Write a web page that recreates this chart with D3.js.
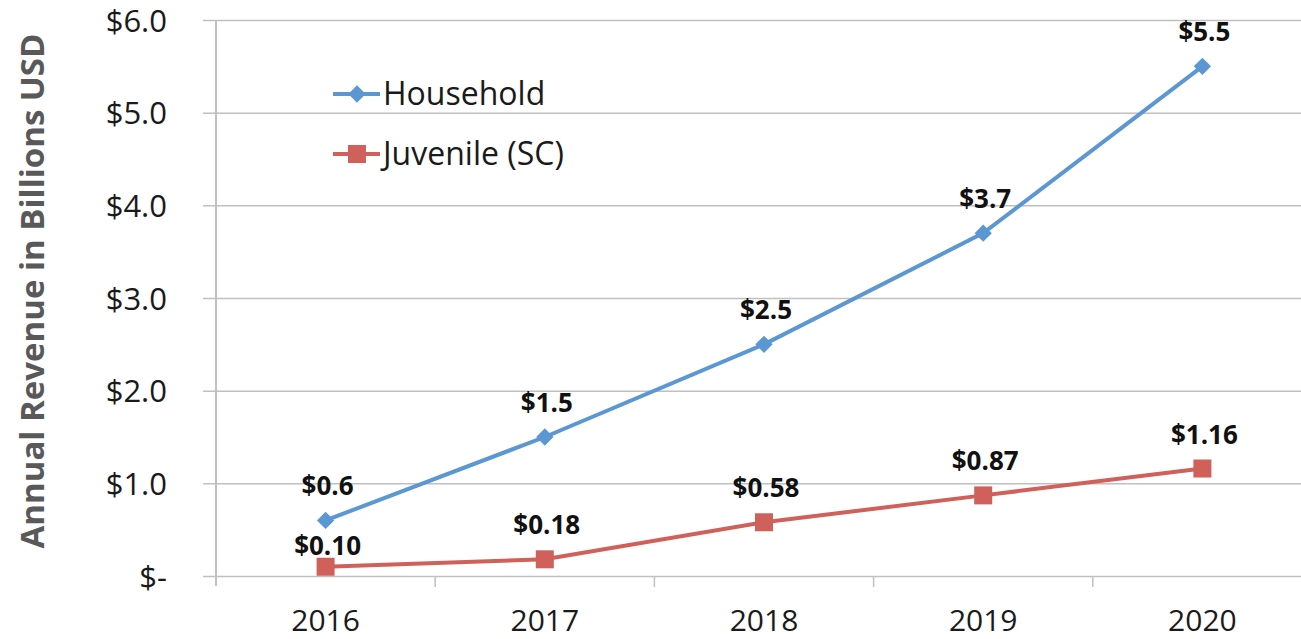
<!DOCTYPE html>
<html>
<head>
<meta charset="utf-8">
<script src="https://cdn.jsdelivr.net/npm/d3@7"></script>
<style>
  body { margin: 0; background: #fff; }
  svg text { font-family: "Open Sans", "Noto Sans", sans-serif; }
  .axis path { display: none; }
</style>
</head>
<body>
<div id="chart"></div>
<script>
// chart data
const years = ["2016", "2017", "2018", "2019", "2020"];
const household = [0.6, 1.5, 2.5, 3.7, 5.5];
const juvenile = [0.10, 0.18, 0.58, 0.87, 1.16];
const householdLabels = ["$0.6", "$1.5", "$2.5", "$3.7", "$5.5"];
const juvenileLabels = ["$0.10", "$0.18", "$0.58", "$0.87", "$1.16"];
const yTicks = [0, 1, 2, 3, 4, 5, 6];
const yTickLabels = ["$-", "$1.0", "$2.0", "$3.0", "$4.0", "$5.0", "$6.0"];

const svgWidth = 1301;
const svgHeight = 639;
const plotLeft = 216, plotRight = 1312, plotTop = 20, plotBottom = 576;

const svg = d3.select("#chart")
    .append("svg")
    .attr("width", svgWidth)
    .attr("height", svgHeight);

const x = d3.scaleBand()
    .domain(years)
    .range([plotLeft, plotRight]);

const y = d3.scaleLinear()
    .domain([0, 6])
    .range([plotBottom, plotTop]);

const gridColor = "#c0c0c0";

// horizontal gridlines + y tick labels
const yAxis = svg.append("g")
    .attr("class", "axis")
    .attr("transform", `translate(${plotLeft},0)`)
    .call(d3.axisLeft(y)
        .tickValues(yTicks)
        .tickFormat((d, i) => yTickLabels[i])
        .tickSize(-(plotRight - plotLeft))
        .tickPadding(49));
yAxis.selectAll("line")
    .attr("x1", -13)
    .attr("stroke", gridColor)
    .attr("stroke-width", 1.5);
yAxis.selectAll("text")
    .attr("font-size", "31px")
    .attr("fill", "#1a1a1a")
    .attr("dy", "0.36em");

// vertical axis line
svg.append("line")
    .attr("x1", plotLeft).attr("x2", plotLeft)
    .attr("y1", plotTop).attr("y2", plotBottom + 10)
    .attr("stroke", gridColor)
    .attr("stroke-width", 2);

// x axis: tick marks between categories
const xAxis = svg.append("g")
    .attr("class", "axis")
    .attr("transform", `translate(0,${plotBottom})`)
    .call(d3.axisBottom(x).tickSize(0).tickPadding(55));
xAxis.selectAll("text")
    .attr("font-size", "30px")
    .attr("fill", "#1a1a1a")
    .attr("dy", "0");

svg.append("g")
    .selectAll("line")
    .data(years.slice(1))
    .enter()
    .append("line")
    .attr("x1", d => x(d))
    .attr("x2", d => x(d))
    .attr("y1", plotBottom)
    .attr("y2", plotBottom + 11)
    .attr("stroke", gridColor)
    .attr("stroke-width", 1.5);

// y axis title
svg.append("text")
    .text("Annual Revenue in Billions USD")
    .attr("transform", `translate(44,291) rotate(-90)`)
    .attr("text-anchor", "middle")
    .attr("font-size", "33px")
    .attr("font-weight", "bold")
    .attr("fill", "#595959");

const cx = d => x(d) + x.bandwidth() / 2;

const seriesList = [
    { name: "Household", values: household, labels: householdLabels, color: "#5b97d2", marker: "diamond" },
    { name: "Juvenile (SC)", values: juvenile, labels: juvenileLabels, color: "#d0605a", marker: "square" }
];

const line = d3.line()
    .x(d => cx(d.year))
    .y(d => y(d.value));

function drawMarker(g, type, color) {
    if (type === "diamond") {
        g.append("path")
            .attr("d", d3.symbol().type(d3.symbolDiamond2).size(190))
            .attr("fill", color);
    } else {
        g.append("rect")
            .attr("x", -9).attr("y", -9)
            .attr("width", 18).attr("height", 18)
            .attr("fill", color);
    }
}

seriesList.forEach(function (s) {
    const pts = years.map((yr, i) => ({ year: yr, value: s.values[i], label: s.labels[i] }));

    svg.append("path")
        .datum(pts)
        .attr("d", line)
        .attr("fill", "none")
        .attr("stroke", s.color)
        .attr("stroke-width", 4);

    pts.forEach(function (p) {
        const g = svg.append("g")
            .attr("transform", `translate(${cx(p.year)},${y(p.value)})`);
        drawMarker(g, s.marker, s.color);
    });

    svg.append("g")
        .selectAll("text")
        .data(pts)
        .enter()
        .append("text")
        .text(d => d.label)
        .attr("x", d => cx(d.year) + 2)
        // first juvenile label sits lower so it clears the household label
        .attr("y", (d, i) => y(d.value) - (s.name === "Juvenile (SC)" && i === 0 ? 12 : 25))
        .attr("text-anchor", "middle")
        .attr("font-size", "26px")
        .attr("font-weight", "bold")
        .attr("fill", "#111");
});

// legend
const legend = svg.append("g");
seriesList.forEach(function (s, i) {
    const ly = 94 + i * 60;
    legend.append("line")
        .attr("x1", 333).attr("x2", 380)
        .attr("y1", ly).attr("y2", ly)
        .attr("stroke", s.color)
        .attr("stroke-width", 4);
    const g = legend.append("g").attr("transform", `translate(357,${ly})`);
    drawMarker(g, s.marker, s.color);
    legend.append("text")
        .text(s.name)
        .attr("x", 383)
        .attr("y", ly + 11)
        .attr("font-size", "32px")
        .attr("fill", "#1a1a1a");
});
</script>
</body>
</html>
